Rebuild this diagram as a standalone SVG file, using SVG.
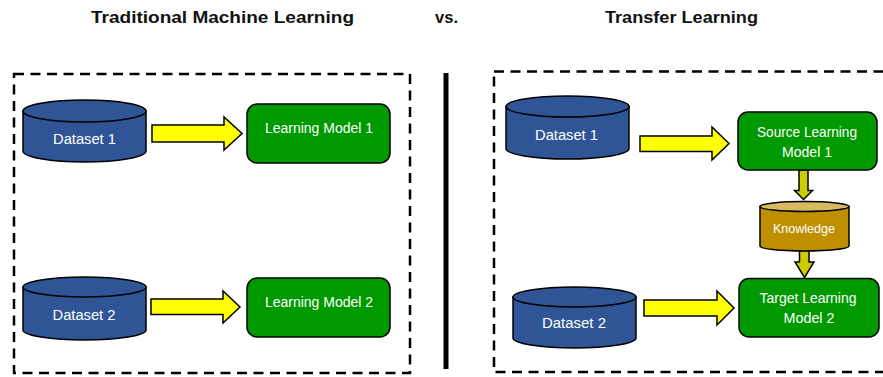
<svg xmlns="http://www.w3.org/2000/svg" width="883" height="377" viewBox="0 0 883 377">
<style>
.title{font-family:"Liberation Sans",Arial,sans-serif;font-weight:bold;font-size:16.5px;fill:#111}
.lbl{font-family:"Liberation Sans",Arial,sans-serif;font-size:14px;fill:#fff;text-anchor:middle}
.frame{fill:none;stroke:#000;stroke-width:2.5;stroke-dasharray:10 6.5}
.db{fill:#2F5597;stroke:#000;stroke-width:1.5}
.kb{fill:#BF8F00;stroke:#000;stroke-width:1.5}
.kt{fill:#D9B862;stroke:#000;stroke-width:1.5}
.model{fill:#009900;stroke:#000;stroke-width:1.5}
.arr{fill:#FFFF00;stroke:#000;stroke-width:1.5;stroke-linejoin:miter}
.darr{fill:#CCCC00;stroke:#000;stroke-width:1.5}
</style>
<rect width="883" height="377" fill="#fff"/>
<text class="title" x="91" y="23" textLength="263" lengthAdjust="spacingAndGlyphs">Traditional Machine Learning</text>
<text class="title" x="435" y="23" textLength="23" lengthAdjust="spacingAndGlyphs">vs.</text>
<text class="title" x="605" y="23" textLength="153" lengthAdjust="spacingAndGlyphs">Transfer Learning</text>
<rect class="frame" x="14" y="74" width="396" height="299"/>
<rect class="frame" x="494" y="71.5" width="400" height="300.5"/>
<rect x="443.5" y="73" width="5" height="296" fill="#000"/>

<g id="connectors">
<polygon class="arr" points="152,125 224,125 224,117 242,133.5 224,150 224,142 152,142"/>
<polygon class="arr" points="151,299 223,299 223,291 240,307 223,323 223,314.5 151,314.5"/>
<polygon class="arr" points="640,136 712,136 712,127 729,143.5 712,160 712,151.5 640,151.5"/>
<polygon class="arr" points="644,300 717,300 717,291 734,308 717,325 717,316 644,316"/>
<polygon class="darr" points="799,170 808,170 808,190.5 812.5,190.5 803.5,199.5 794.5,190.5 799,190.5"/>
<polygon class="darr" points="799.5,250.5 809,250.5 809,262 814,262 804.5,277.5 795,262 799.5,262"/>
</g>

<g id="left-dataset1">
<path class="db" d="M23,111 L23,151 A61.5,11 0 0 0 146,151 L146,111 Z"/>
<ellipse class="db" cx="84.5" cy="111" rx="61.5" ry="11"/>
<text class="lbl" x="84.5" y="144" textLength="63" lengthAdjust="spacingAndGlyphs">Dataset 1</text>
</g>
<g id="left-model1">
<rect class="model" x="247" y="104" width="143" height="59" rx="10"/>
<text class="lbl" x="319" y="132.7" textLength="108" lengthAdjust="spacingAndGlyphs">Learning Model 1</text>
</g>
<g id="left-dataset2">
<path class="db" d="M23,287 L23,330 A61.5,10 0 0 0 146,330 L146,287 Z"/>
<ellipse class="db" cx="84.5" cy="287" rx="61.5" ry="10"/>
<text class="lbl" x="84" y="320" textLength="63" lengthAdjust="spacingAndGlyphs">Dataset 2</text>
</g>
<g id="left-model2">
<rect class="model" x="247" y="278" width="143" height="59" rx="10"/>
<text class="lbl" x="319" y="306.7" textLength="108" lengthAdjust="spacingAndGlyphs">Learning Model 2</text>
</g>

<g id="right-dataset1">
<path class="db" d="M506,106.5 L506,148.5 A61.5,10.5 0 0 0 629,148.5 L629,106.5 Z"/>
<ellipse class="db" cx="567.5" cy="106.5" rx="61.5" ry="10.5"/>
<text class="lbl" x="566.5" y="140" textLength="63" lengthAdjust="spacingAndGlyphs">Dataset 1</text>
</g>
<g id="source-model">
<rect class="model" x="738" y="112" width="139" height="58" rx="10"/>
<text class="lbl" x="807" y="137.3" textLength="100" lengthAdjust="spacingAndGlyphs">Source Learning</text>
<text class="lbl" x="807" y="156.7" textLength="50" lengthAdjust="spacingAndGlyphs">Model 1</text>
</g>
<g id="knowledge">
<path class="kb" d="M760,206.5 L760,246 A44.5,5 0 0 0 849,246 L849,206.5 Z"/>
<ellipse class="kt" cx="804.5" cy="206.5" rx="44.5" ry="5"/>
<text class="lbl" x="804" y="232.7" style="font-size:12.5px" textLength="62" lengthAdjust="spacingAndGlyphs">Knowledge</text>
</g>
<g id="right-dataset2">
<path class="db" d="M513,297 L513,338 A61.5,10 0 0 0 636,338 L636,297 Z"/>
<ellipse class="db" cx="574.5" cy="297" rx="61.5" ry="10"/>
<text class="lbl" x="574" y="328.3" textLength="64" lengthAdjust="spacingAndGlyphs">Dataset 2</text>
</g>
<g id="target-model">
<rect class="model" x="739" y="278.5" width="140" height="58.5" rx="10"/>
<text class="lbl" x="808" y="303.3" textLength="97" lengthAdjust="spacingAndGlyphs">Target Learning</text>
<text class="lbl" x="809" y="322.7" textLength="51" lengthAdjust="spacingAndGlyphs">Model 2</text>
</g>
</svg>
